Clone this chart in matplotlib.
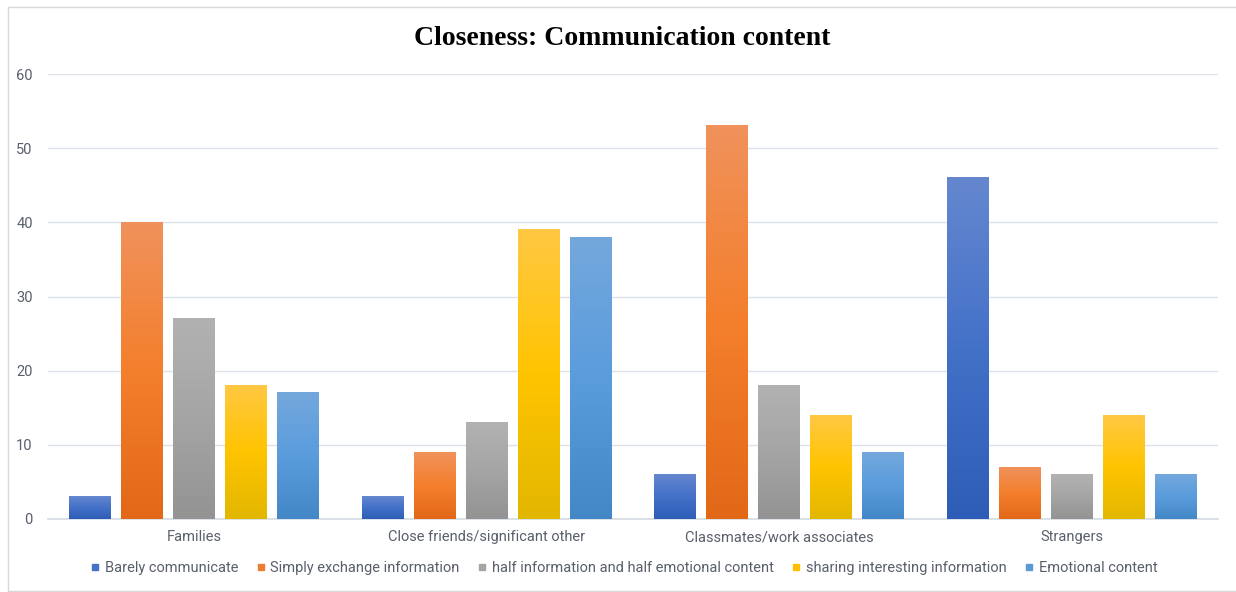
import numpy as np
import matplotlib
matplotlib.use("Agg")
import matplotlib.pyplot as plt
from matplotlib.colors import LinearSegmentedColormap
from matplotlib.patches import Rectangle
from matplotlib.lines import Line2D

plt.rcParams["font.family"] = ["Roboto", "DejaVu Sans"]

# data
categories = ["Families", "Close friends/significant other",
              "Classmates/work associates", "Strangers"]
series_names = ["Barely communicate", "Simply exchange information",
                "half information and half emotional content",
                "sharing interesting information", "Emotional content"]
barely = [3, 3, 6, 46]
simply = [40, 9, 53, 7]
half = [27, 13, 18, 6]
sharing = [18, 39, 14, 14]
emotional = [17, 38, 9, 6]
all_series = [barely, simply, half, sharing, emotional]

# (bottom, middle, top) colours for the bar gradients
grads = [
    ("#2e5db7", "#4371c8", "#6587cf"),
    ("#e26818", "#f47f2c", "#f0925c"),
    ("#939393", "#a5a5a5", "#b2b2b2"),
    ("#e2b700", "#ffc400", "#ffc843"),
    ("#4487c6", "#5a9cdc", "#74a8dd"),
]
legend_cols = ["#4472c4", "#ed7d31", "#a5a5a5", "#ffc000", "#5b9bd5"]

txt = "#595f6b"
grid_c = "#dde2ea"

fig = plt.figure(figsize=(12.36, 5.92), dpi=100)
fig.patch.set_facecolor("white")
fig.patches.append(Rectangle((8 / 1236, 1 / 592), 1.2, 584 / 592,
                             transform=fig.transFigure, fill=False,
                             edgecolor="#d9d9d9", linewidth=1.0))

ax = fig.add_axes([48 / 1236, 73 / 592, 1170 / 1236, 445 / 592])

x = np.arange(len(categories))
pitch = 52 / 292.5
width = 42 / 292.5

grad = np.linspace(0, 1, 256).reshape(-1, 1)
for i, vals in enumerate(all_series):
    pos = x + (i - 2) * pitch
    # bars give the geometry, the gradient image fills them
    bars = ax.bar(pos, vals, width=width, color="none",
                  edgecolor="none", zorder=2)
    cmap = LinearSegmentedColormap.from_list("g%d" % i, grads[i])
    for b in bars:
        x0, y0 = b.get_x(), b.get_y()
        w, h = b.get_width(), b.get_height()
        ax.imshow(grad, cmap=cmap, origin="lower", aspect="auto",
                  extent=(x0, x0 + w, y0, y0 + h), zorder=3,
                  interpolation="bilinear")

ax.set_xlim(-0.5, 3.5)
ax.set_ylim(0, 60)
ax.set_yticks(range(0, 61, 10))
ax.grid(axis="y", color=grid_c, linewidth=1.0, zorder=0)
ax.set_axisbelow(True)
for s in ["top", "right", "left"]:
    ax.spines[s].set_visible(False)
ax.spines["bottom"].set_color("#d6dbe3")
ax.spines["bottom"].set_linewidth(1.2)
ax.set_xticks(x)
ax.set_xticklabels(categories)
ax.tick_params(axis="both", length=0, colors=txt, labelsize=10.5)
ax.tick_params(axis="y", pad=11)
ax.tick_params(axis="x", pad=8)

fig.text(0.503, 0.935, "Closeness: Communication content",
         ha="center", va="center", fontsize=20, fontweight="bold",
         family="Liberation Serif", color="black")

handles = [Line2D([], [], marker="s", linestyle="none", markersize=5,
                  markerfacecolor=c, markeredgecolor=c) for c in legend_cols]
leg = fig.legend(handles, series_names, loc="center",
                 bbox_to_anchor=(0.505, 0.04), ncol=5, frameon=False,
                 fontsize=10.5, handletextpad=0.35, columnspacing=1.25,
                 handlelength=0.6)
for t in leg.get_texts():
    t.set_color(txt)

fig.savefig("out.png", dpi=100)
